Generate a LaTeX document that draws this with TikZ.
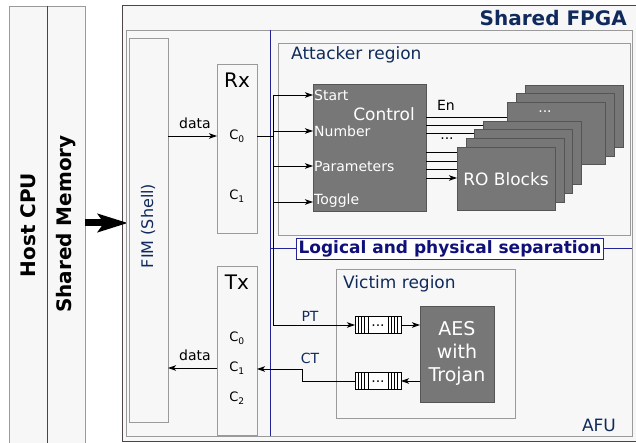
\documentclass[tikz,border=0pt]{standalone}
\usepackage{fontspec}
\setmainfont{DejaVu Sans}
\usetikzlibrary{arrows.meta}
\definecolor{panel}{HTML}{F7F7F7}
\definecolor{pborder}{HTML}{9A9A9A}
\definecolor{dborder}{HTML}{4D4545}
\definecolor{navy}{HTML}{102A5C}
\definecolor{sepblue}{HTML}{24249A}
\definecolor{septext}{HTML}{10107A}
\definecolor{blockfill}{HTML}{777777}
\definecolor{blockdraw}{HTML}{555555}
\newcommand{\fs}[1]{\fontsize{#1}{#1}\selectfont}
\tikzset{
  panelbox/.style={draw=pborder, fill=panel, line width=0.9pt},
  grayblk/.style={draw=blockdraw, fill=blockfill, line width=0.9pt},
  conn/.style={line width=0.9pt, black},
  arr/.style={conn, -{Stealth[length=8pt,width=5.5pt,inset=2pt]}},
  lbl/.style={inner sep=0pt, font=\fs{14}},
  wlbl/.style={inner sep=0pt, text=white, font=\fs{14}, anchor=west},
  regionlbl/.style={inner sep=0pt, text=navy, font=\fs{17}, anchor=west},
  cx/.style={inner sep=0pt, font=\fs{13}},
}
\begin{document}
\begin{tikzpicture}[x=1pt,y=-1pt]
\useasboundingbox (0,0) rectangle (636,443);
\clip (0,0) rectangle (636,443);
\fill[white] (0,0) rectangle (636,443);
% host panels
\draw[panelbox] (9,6) rectangle (47,450);
\draw[panelbox] (47,6) rectangle (85,450);
\draw[dborder, line width=0.9pt] (47,6) -- (47,450);
\node[rotate=90, font=\bfseries\fs{20}, inner sep=0pt] (host) at (28,225) {Host CPU};
\node[rotate=90, font=\bfseries\fs{20}, inner sep=0pt] (mem) at (66,224) {Shared Memory};
% FPGA
\draw[draw=dborder, fill=panel, line width=1pt] (122,6) rectangle (640,441);
\node[anchor=east, font=\bfseries\fs{20}, text=navy, inner sep=0pt] (fpga) at (627,18) {Shared FPGA};
\coordinate (fpgaL) at (128,223);
\coordinate (memR) at (85,223);
\draw[line width=7pt, -{Stealth[length=30pt,width=18pt,inset=6pt]}] (memR) -- (fpgaL);
% AFU
\draw[panelbox] (126,30) rectangle (632,436);
\node[anchor=center, font=\fs{17}, text=navy, inner sep=0pt] (afu) at (599,425) {AFU};
% FIM
\draw[panelbox] (129,38) rectangle (168,422);
\node[rotate=90, font=\fs{16}, text=navy, inner sep=0pt] (fim) at (148,226) {FIM (Shell)};
\coordinate (fimRx) at (168,136);
\coordinate (fimTx) at (168,368);
% Rx / Tx
\draw[panelbox] (217,64) rectangle (257,233);
\node[inner sep=0pt, font=\fs{20}] (rx) at (237,80) {Rx};
\node[cx] (rxc0) at (237,136) {C\textsubscript{0}};
\node[cx] (rxc1) at (237,196) {C\textsubscript{1}};
\draw[panelbox] (217,266) rectangle (257,435);
\node[inner sep=0pt, font=\fs{20}] (tx) at (237,282) {Tx};
\node[cx] (txc0) at (237,338) {C\textsubscript{0}};
\node[cx] (txc1) at (237,368) {C\textsubscript{1}};
\node[cx] (txc2) at (237,398) {C\textsubscript{2}};
\coordinate (rxL) at (217,136);
\coordinate (rxR) at (257,136);
\coordinate (txL) at (217,368);
\coordinate (txR) at (257,369);
\draw[arr] (fimRx) -- (rxL);
\node[lbl] (d1) at (195,123) {data};
\draw[arr] (txL) -- (fimTx);
\node[lbl] (d2) at (195,355) {data};
% separation lines
\draw[sepblue, line width=1pt] (270,30) -- (270,436);
\draw[sepblue, line width=1pt] (270,249) -- (632,249);
% attacker region
\draw[panelbox] (278,43) rectangle (630,235);
\node[regionlbl] (att) at (291,55) {Attacker region};
% separation label
\node[draw=sepblue, fill=white, line width=0.9pt, text=septext, font=\bfseries\fs{17}, inner xsep=2pt, inner ysep=2.5pt] (sep) at (450,249) {Logical and physical separation};
% control
\draw[grayblk] (313,84) rectangle (426,211);
\node[inner sep=0pt, text=white, font=\fs{17}] (ctrl) at (384,114) {Control};
\node[wlbl] (st) at (314,95) {Start};
\node[wlbl] (nu) at (314,131) {Number};
\node[wlbl] (pa) at (314,166) {Parameters};
\node[wlbl] (to) at (314,201) {Toggle};
\coordinate (fan) at (273,136);
\coordinate (fanT) at (273,95);
\coordinate (fanB) at (273,325);
\draw[conn] (rxR) -- (fan);
\draw[conn] (fanT) -- (fanB);
\draw[arr] (fanT) -- (313,95);
\draw[arr] (273,131) -- (313,131);
\draw[arr] (273,166) -- (313,166);
\draw[arr] (273,202) -- (313,202);
% RO stack
\draw[grayblk] (525,85) rectangle (623,147);
\draw[grayblk] (516,93) rectangle (614,156);
\draw[grayblk] (507,102) rectangle (605,164);
\node[inner sep=0pt, text=white, font=\fs{14}] (rodots) at (545,112) {...};
\draw[grayblk] (483,121) rectangle (581,184);
\draw[grayblk] (474,129) rectangle (572,193);
\draw[grayblk] (466,138) rectangle (564,202);
\draw[grayblk] (457,147) rectangle (555,210);
\node[inner sep=0pt, text=white, font=\fs{17}] (ro) at (506,179) {RO Blocks};
\draw[conn] (426,117) -- (507,117);
\draw[conn] (426,125) -- (483,125);
\draw[conn] (426,133) -- (474,133);
\draw[conn] (426,152) -- (457,152);
\draw[conn] (426,161) -- (457,161);
\draw[conn] (426,169) -- (457,169);
\draw[arr] (426,178) -- (457,178);
\node[lbl] (en) at (446,105) {En};
\node[lbl] (ldots) at (447,139) {...};
% victim region
\draw[panelbox] (336,269) rectangle (515,418);
\node[regionlbl] (vic) at (343,284) {Victim region};
\draw[grayblk] (420,306) rectangle (494,402);
\node[inner sep=0pt, text=white, font=\fs{19}, align=center] (aes) at (457,353) {AES\\[4pt]with\\[4pt]Trojan};
% FIFOs
\foreach \y/\nm in {316/fa,372/fb}{
  \draw[black, line width=0.8pt, fill=white] (355,\y) rectangle (401,\y+17);
  \foreach \xx in {358,361,364,368,388,391,394,397}
    \draw[black, line width=0.7pt] (\xx,\y) -- (\xx,\y+17);
  \node[inner sep=0pt, font=\fs{14}, anchor=base] (\nm) at (378,\y+10.5) {...};
}
\draw[arr] (fanB) -- (355,325);
\node[inner sep=0pt, text=navy, font=\fs{14}] (pt) at (310,316) {PT};
\draw[arr] (401,325) -- (420,325);
\draw[arr] (420,381) -- (401,381);
\draw[arr] (355,381) -- (302,381) -- (302,369) -- (txR);
\node[inner sep=0pt, text=navy, font=\fs{14}] (ct) at (310,358) {CT};
\end{tikzpicture}
\end{document}
